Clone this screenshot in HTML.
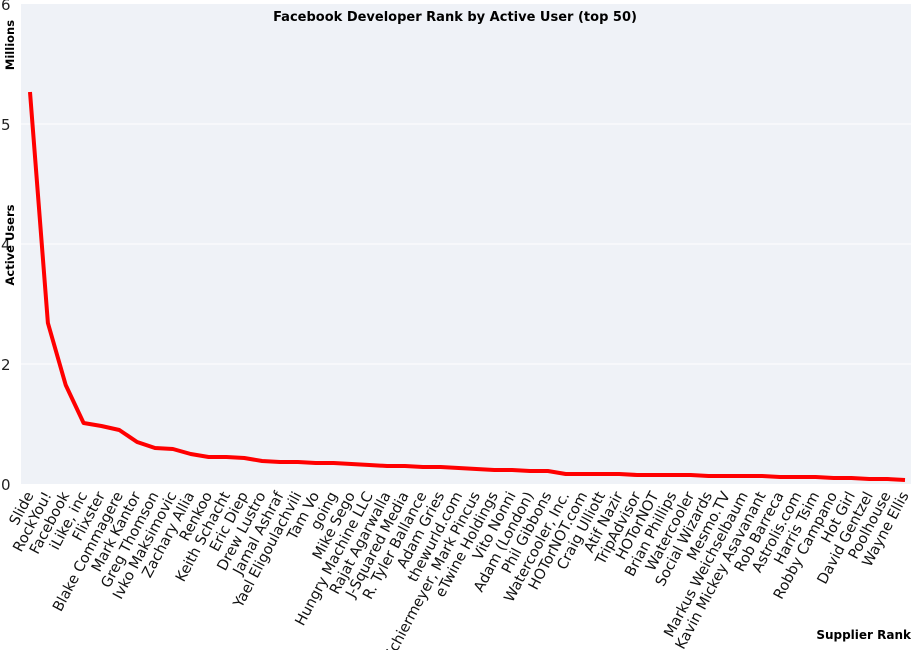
<!DOCTYPE html>
<html><head><meta charset="utf-8"><style>body{margin:0;background:#fff}svg{display:block}</style></head>
<body>
<svg width="911" height="650" xmlns="http://www.w3.org/2000/svg" font-family="DejaVu Sans, sans-serif">
<rect x="21" y="4" width="890" height="480" fill="#eff2f7"/>
<g stroke="#fff" stroke-width="1">
<line x1="21" y1="124" x2="911" y2="124"/><line x1="21" y1="244" x2="911" y2="244"/><line x1="21" y1="364" x2="911" y2="364"/>
</g>
<g font-size="15" fill="#222">
<text x="1" y="10">6</text><text x="1" y="130">5</text><text x="1" y="250">4</text><text x="1" y="370">2</text><text x="1" y="490">0</text>
</g>
<text x="455" y="21" font-size="13" font-weight="bold" text-anchor="middle">Facebook Developer Rank by Active User (top 50)</text>
<text transform="translate(14,45) rotate(-90)" font-size="11.5" font-weight="bold" text-anchor="middle">Millions</text>
<text transform="translate(14,245) rotate(-90)" font-size="11.5" font-weight="bold" text-anchor="middle">Active Users</text>
<text x="911" y="639" font-size="12" font-weight="bold" text-anchor="end">Supplier Rank</text>
<polyline fill="none" stroke="#f00" stroke-width="4" stroke-linejoin="round" points="30.0,92 47.9,323 65.7,385 83.6,423 101.4,426 119.3,430 137.1,442 155.0,448 172.9,449 190.7,454 208.6,457 226.4,457 244.3,458 262.1,461 280.0,462 297.9,462 315.7,463 333.6,463 351.4,464 369.3,465 387.1,466 405.0,466 422.9,467 440.7,467 458.6,468 476.4,469 494.3,470 512.1,470 530.0,471 547.9,471 565.7,474 583.6,474 601.4,474 619.3,474 637.1,475 655.0,475 672.9,475 690.7,475 708.6,476 726.4,476 744.3,476 762.1,476 780.0,477 797.9,477 815.7,477 833.6,478 851.4,478 869.3,479 887.1,479 905.0,480"/>
<g font-size="14.5" fill="#111" text-anchor="end">
<text transform="translate(34.0,495) rotate(-62)">Slide</text>
<text transform="translate(51.9,495) rotate(-62)">RockYou!</text>
<text transform="translate(69.7,495) rotate(-62)">Facebook</text>
<text transform="translate(87.6,495) rotate(-62)">iLike, inc</text>
<text transform="translate(105.4,495) rotate(-62)">Flixster</text>
<text transform="translate(123.3,495) rotate(-62)">Blake Commagere</text>
<text transform="translate(141.1,495) rotate(-62)">Mark Kantor</text>
<text transform="translate(159.0,495) rotate(-62)">Greg Thomson</text>
<text transform="translate(176.9,495) rotate(-62)">Ivko Maksimovic</text>
<text transform="translate(194.7,495) rotate(-62)">Zachary Allia</text>
<text transform="translate(212.6,495) rotate(-62)">Renkoo</text>
<text transform="translate(230.4,495) rotate(-62)">Keith Schacht</text>
<text transform="translate(248.3,495) rotate(-62)">Eric Diep</text>
<text transform="translate(266.1,495) rotate(-62)">Drew Lustro</text>
<text transform="translate(284.0,495) rotate(-62)">Jamal Ashraf</text>
<text transform="translate(301.9,495) rotate(-62)">Yael Eligoulachvili</text>
<text transform="translate(319.7,495) rotate(-62)">Tam Vo</text>
<text transform="translate(337.6,495) rotate(-62)">going</text>
<text transform="translate(355.4,495) rotate(-62)">Mike Sego</text>
<text transform="translate(373.3,495) rotate(-62)">Hungry Machine LLC</text>
<text transform="translate(391.1,495) rotate(-62)">Rajat Agarwalla</text>
<text transform="translate(409.0,495) rotate(-62)">J-Squared Media</text>
<text transform="translate(426.9,495) rotate(-62)">R. Tyler Ballance</text>
<text transform="translate(444.7,495) rotate(-62)">Adam Gries</text>
<text transform="translate(462.6,495) rotate(-62)">thewurld.com</text>
<text transform="translate(480.4,495) rotate(-62)">Schiermeyer, Mark Pincus</text>
<text transform="translate(498.3,495) rotate(-62)">eTwine Holdings</text>
<text transform="translate(516.1,495) rotate(-62)">Vito Nonni</text>
<text transform="translate(534.0,495) rotate(-62)">Adam (London)</text>
<text transform="translate(551.9,495) rotate(-62)">Phil Gibbons</text>
<text transform="translate(569.7,495) rotate(-62)">Watercooler, Inc.</text>
<text transform="translate(587.6,495) rotate(-62)">HOTorNOT.com</text>
<text transform="translate(605.4,495) rotate(-62)">Craig Ulliott</text>
<text transform="translate(623.3,495) rotate(-62)">Atif Nazir</text>
<text transform="translate(641.1,495) rotate(-62)">TripAdvisor</text>
<text transform="translate(659.0,495) rotate(-62)">HOTorNOT</text>
<text transform="translate(676.9,495) rotate(-62)">Brian Phillips</text>
<text transform="translate(694.7,495) rotate(-62)">Watercooler</text>
<text transform="translate(712.6,495) rotate(-62)">Social Wizards</text>
<text transform="translate(730.4,495) rotate(-62)">Mesmo.TV</text>
<text transform="translate(748.3,495) rotate(-62)">Markus Weichselbaum</text>
<text transform="translate(766.1,495) rotate(-62)">Kavin Mickey Asavanant</text>
<text transform="translate(784.0,495) rotate(-62)">Rob Barreca</text>
<text transform="translate(801.9,495) rotate(-62)">Astrolis.com</text>
<text transform="translate(819.7,495) rotate(-62)">Harris Tsim</text>
<text transform="translate(837.6,495) rotate(-62)">Robby Campano</text>
<text transform="translate(855.4,495) rotate(-62)">Hot Girl</text>
<text transform="translate(873.3,495) rotate(-62)">David Gentzel</text>
<text transform="translate(891.1,495) rotate(-62)">Poolhouse</text>
<text transform="translate(909.0,495) rotate(-62)">Wayne Ellis</text>
</g>
</svg>
</body></html>
